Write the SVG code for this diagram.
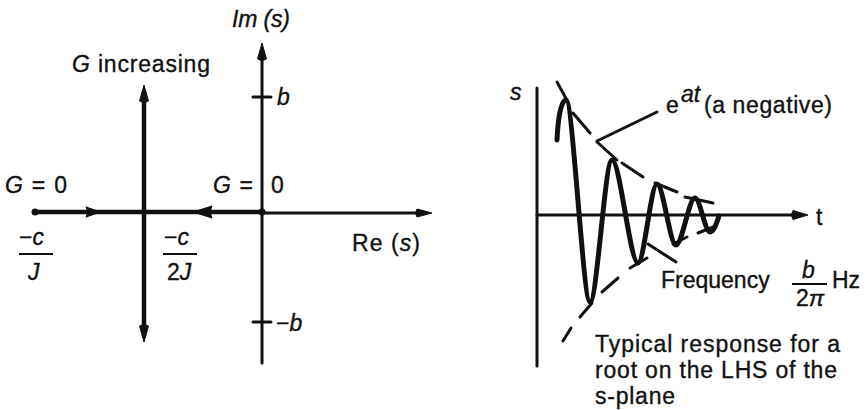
<svg xmlns="http://www.w3.org/2000/svg" width="868" height="410" viewBox="0 0 868 410">
<style>
  text { font-family: "Liberation Sans", Arial, sans-serif; font-size: 23px; fill: #111; stroke: #111; stroke-width: 0.35; }
  .it { font-style: italic; }
  .axis { stroke: #111; stroke-width: 3; fill: none; stroke-linecap: round; }
  .locus { stroke: #111; stroke-width: 4.5; fill: none; stroke-linecap: round; }
  .head { fill: #111; stroke: #111; stroke-width: 1; stroke-linejoin: round; }
  .bar { stroke: #111; stroke-width: 2; }
  .dash { stroke: #111; stroke-width: 3; stroke-linecap: round; fill: none; }
  .wave { stroke: #111; stroke-width: 5; fill: none; stroke-linecap: round; stroke-linejoin: round; }
</style>

<g id="s-plane">
  <g id="axes">
    <line class="axis" x1="262" y1="50" x2="262" y2="363"/>
    <line class="axis" x1="262" y1="213" x2="426" y2="213" stroke-width="2.5"/>
    <line class="axis" x1="253" y1="97" x2="271" y2="97" stroke-width="2.5"/>
    <line class="axis" x1="253" y1="322" x2="271" y2="322" stroke-width="2.5"/>
    <path class="head" d="M262,43 L266.5,59 Q262,62 257.5,59 Z"/>
    <path class="head" d="M432,213 L417,217 Q414,213 417,209 Z"/>
  </g>
  <g id="locus">
    <line class="locus" x1="35" y1="212" x2="262" y2="212"/>
    <line class="locus" x1="144" y1="92" x2="144" y2="336"/>
    <circle cx="35" cy="212" r="3.5" fill="#111"/>
    <circle cx="262" cy="212" r="3.5" fill="#111"/>
    <path class="head" d="M144,85 L148.5,101 Q144,104 139.5,101 Z"/>
    <path class="head" d="M144,342 L148.5,326 Q144,323 139.5,326 Z"/>
    <path class="head" d="M101,212 L86,207 L88,212 L86,217 Z"/>
    <path class="head" d="M193,212 L212,206 L210,212 L212,218 Z"/>
  </g>
  <g id="labels-left">
    <text x="232" y="27" class="it" textLength="58" lengthAdjust="spacing">Im (s)</text>
    <text x="72" y="72" textLength="138" lengthAdjust="spacing"><tspan class="it">G</tspan> increasing</text>
    <text x="277" y="105" class="it">b</text>
    <text x="276" y="331"><tspan>−</tspan><tspan class="it">b</tspan></text>
    <text x="5" y="193" textLength="62" lengthAdjust="spacing"><tspan class="it">G</tspan> = 0</text>
    <text x="213" y="193" textLength="40" lengthAdjust="spacing"><tspan class="it">G</tspan> =</text>
    <text x="271" y="193">0</text>
    <text x="19" y="245"><tspan>−</tspan><tspan class="it">c</tspan></text>
    <line class="bar" x1="19" y1="254" x2="53" y2="254"/>
    <text x="28" y="280" class="it">J</text>
    <text x="164" y="245"><tspan>−</tspan><tspan class="it">c</tspan></text>
    <line class="bar" x1="163" y1="254" x2="197" y2="254"/>
    <text x="167" y="280">2<tspan class="it">J</tspan></text>
    <text x="352" y="251" textLength="68" lengthAdjust="spacing">Re (<tspan class="it">s</tspan>)</text>
  </g>
</g>

<g id="response">
  <g id="axes-right">
    <line class="axis" x1="537" y1="88" x2="537" y2="366"/>
    <line class="axis" x1="537" y1="215" x2="798" y2="215"/>
    <path class="head" d="M808,215 L793,219.5 Q790,215 793,210.5 Z"/>
    <text x="510" y="100" class="it">s</text>
    <text x="816" y="225">t</text>
  </g>
  <g id="envelope">
    <line class="dash" x1="557" y1="82" x2="568" y2="102"/>
    <line class="dash" x1="573" y1="113" x2="590" y2="133"/>
    <line class="dash" x1="597" y1="142" x2="617" y2="160"/>
    <line class="dash" x1="622" y1="163" x2="643" y2="177"/>
    <line class="dash" x1="655" y1="183" x2="677" y2="192"/>
    <line class="dash" x1="685" y1="197" x2="713" y2="203"/>
    <line class="dash" x1="563" y1="341" x2="571" y2="328"/>
    <line class="dash" x1="580" y1="317" x2="592" y2="303"/>
    <line class="dash" x1="602" y1="292" x2="618" y2="278"/>
    <line class="dash" x1="630" y1="268" x2="647" y2="258"/>
    <line class="dash" x1="673" y1="244" x2="687" y2="237"/>
    <line class="dash" x1="698" y1="233" x2="713" y2="227"/>
  </g>
  <g id="pointers">
    <line class="dash" x1="597" y1="141" x2="657" y2="112"/>
    <line class="dash" x1="648" y1="244" x2="676" y2="262"/>
  </g>
  <path class="wave" d="M557,140 C558,118 561,100 566,100 C573,100 583,302 590,302 C597,302 605,160 612,160 C620,160 630,263 638,263 C644,263 651,184 657,184 C663,184 670,245 676,245 C682,245 689,198 695,198 C700,198 705,232 710,232 C714,232 717,222 719,216"/>
  <g id="labels-right">
    <text x="666" y="113">e</text>
    <text x="681" y="102" class="it" font-size="13" stroke-width="0.2">at</text>
    <text x="704" y="113" textLength="128" lengthAdjust="spacing">(a negative)</text>
    <text x="661" y="288">Frequency</text>
    <text x="802" y="278" class="it">b</text>
    <line class="bar" x1="792" y1="284" x2="827" y2="284"/>
    <text x="796" y="306">2<tspan class="it">π</tspan></text>
    <text x="832" y="288">Hz</text>
    <text x="595" y="352" textLength="245" lengthAdjust="spacing">Typical response for a</text>
    <text x="595" y="378" textLength="242" lengthAdjust="spacing">root on the LHS of the</text>
    <text x="595" y="404" textLength="80" lengthAdjust="spacing">s-plane</text>
  </g>
</g>
</svg>
